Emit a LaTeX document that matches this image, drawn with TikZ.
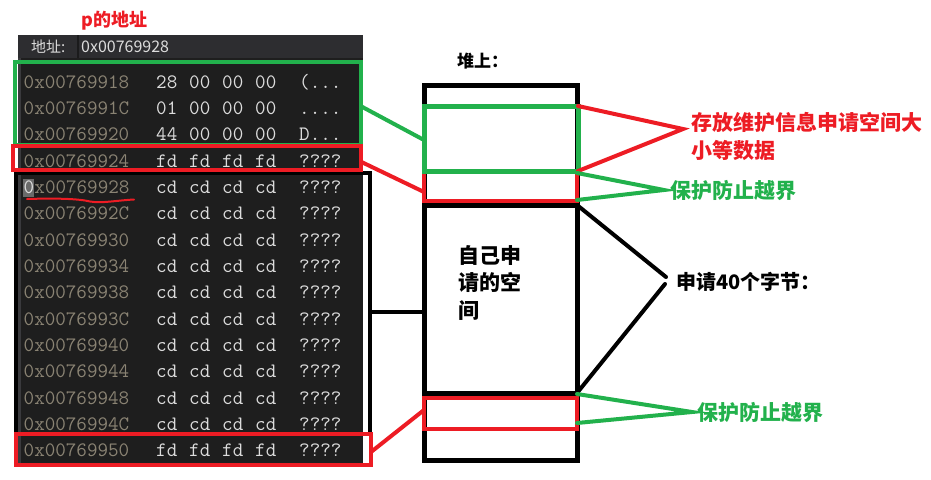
\documentclass[tikz,border=0pt]{standalone}
\usepackage{fontspec}
\newfontfamily\cjk{Noto Sans CJK SC}
\definecolor{paintred}{RGB}{237,28,36}
\definecolor{paintgreen}{RGB}{34,177,76}
\definecolor{panelbg}{HTML}{1E1E1E}
\definecolor{headbg}{HTML}{2D2D30}
\definecolor{sepc}{HTML}{1B1B1C}
\definecolor{stripc}{HTML}{3A3A3D}
\definecolor{addrgray}{HTML}{8A8373}
\definecolor{bytewhite}{HTML}{DCDCDC}
\definecolor{cursorgray}{HTML}{6A6A6A}
\begin{document}
\begin{tikzpicture}[x=1pt,y=-1pt,
  memfont/.style={font=\ttfamily\fontsize{20.5}{20.5}\selectfont},
  addr/.style={memfont, anchor=base west, inner sep=0, text=addrgray},
  byte/.style={memfont, anchor=base west, inner sep=0, text=bytewhite},
  lbl/.style={anchor=west, inner sep=0, align=left},
  box/.style={draw, inner sep=0, outer sep=0, fill=none},
  conn/.style={line width=4pt, line cap=round},
]
\useasboundingbox (0,0) rectangle (931,479);

% ---------- memory panel ----------
\fill[panelbg] (18,58) rectangle (363,465);
\fill[headbg] (18,35) rectangle (363,58);
\fill[stripc] (18,58) rectangle (21,465);
\draw[sepc, line width=1.5pt] (78,35) -- (78,58);
\node[lbl, text=bytewhite, font=\cjk\fontsize{15}{15}\selectfont] (hlabel) at (31,47) {地址:};
\node[lbl, text=bytewhite, font=\cjk\fontsize{16}{16}\selectfont] (haddr) at (81,47) {0x00769928};
\node[lbl, text=paintred, font=\cjk\bfseries\fontsize{18}{18}\selectfont] (ptitle) at (81,21) {p的地址};

% cursor highlight
\fill[cursorgray] (23,179) rectangle (34,197);

\foreach \ax/\a/\b/\c/\d/\e/\s [count=\i from 0] in {
  23.5/0x00769918/28/00/00/00/{(...},
  23.5/0x0076991C/01/00/00/00/{....},
  23.5/0x00769920/44/00/00/00/{D...},
  23.5/0x00769924/fd/fd/fd/fd/{????},
  34.26/x00769928/cd/cd/cd/cd/{????},
  23.5/0x0076992C/cd/cd/cd/cd/{????},
  23.5/0x00769930/cd/cd/cd/cd/{????},
  23.5/0x00769934/cd/cd/cd/cd/{????},
  23.5/0x00769938/cd/cd/cd/cd/{????},
  23.5/0x0076993C/cd/cd/cd/cd/{????},
  23.5/0x00769940/cd/cd/cd/cd/{????},
  23.5/0x00769944/cd/cd/cd/cd/{????},
  23.5/0x00769948/cd/cd/cd/cd/{????},
  23.5/0x0076994C/cd/cd/cd/cd/{????},
  23.5/0x00769950/fd/fd/fd/fd/{????}}{
  \pgfmathsetmacro{\yb}{88.3+26.31*\i}
  \node[addr] (ad\i) at (\ax,\yb) {\a};
  \node[byte] (b1\i) at (156,\yb) {\b};
  \node[byte] (b2\i) at (189,\yb) {\c};
  \node[byte] (b3\i) at (222,\yb) {\d};
  \node[byte] (b4\i) at (255,\yb) {\e};
  \node[byte] (as\i) at (299,\yb) {\s};
}
\node[byte, text=bytewhite] (cur0) at (23.5,193.54) {0};

% red wavy underline
\draw[paintred, line width=2pt, line cap=round] (27,199) .. controls (60,198) and (80,199) .. (90,201.5) .. controls (102,203.5) and (116,200.5) .. (134,199.5);

% memory highlight boxes
\node[box, draw=paintgreen, line width=4pt, minimum width=346.5pt, minimum height=83.5pt] (memG) at (187.75,103.25) {};
\node[box, draw=black, line width=4pt, minimum width=354pt, minimum height=261pt] (memK) at (193,303.5) {};
\node[box, draw=paintred, line width=4pt, minimum width=348pt, minimum height=24.5pt] (memR1) at (187,157.75) {};
\node[box, draw=paintred, line width=4pt, minimum width=355pt, minimum height=31pt] (memR2) at (193.5,449.5) {};

% ---------- heap ----------
\node[lbl, font=\cjk\bfseries\fontsize{17}{17}\selectfont] (heaptitle) at (457,61) {堆上：};
\node[box, draw=black, line width=5pt, minimum width=153pt, minimum height=375pt] (heapO) at (500.5,272.5) {};
\node[box, draw=black, line width=5pt, minimum width=153pt, minimum height=188pt] (heapM) at (500.5,299) {};
\node[box, draw=paintred, line width=4pt, minimum width=153pt, minimum height=30pt] (heapR1) at (500.5,186) {};
\node[box, draw=paintgreen, line width=5pt, minimum width=154pt, minimum height=65pt] (heapG) at (501,138.5) {};
\node[box, draw=paintred, line width=4pt, minimum width=153pt, minimum height=31pt] (heapR2) at (500.5,413.5) {};
\node[lbl, font=\cjk\bfseries\fontsize{21}{27.5}\selectfont] (own) at (458,282.5) {自己申\\请的空\\间};

% ---------- connectors memory -> heap ----------
\draw[conn, paintgreen] ([yshift=-3pt]memG.east) -- ([yshift=-1.5pt]heapG.west);
\draw[conn, paintred] ([yshift=-4pt]memR1.east) -- ([yshift=-6pt]heapR1.west);
\coordinate (kL) at ([yshift=-8.5pt]memK.east);
\draw[conn, black] (kL) -- (kL -| heapM.west);
\draw[conn, paintred] ([yshift=-2.5pt]memR2.east) -- ([yshift=3.5pt]heapR2.west);

% ---------- right-hand labels ----------
\coordinate (apx1) at (683,129);
\coordinate (apx2) at (664,190);
\coordinate (apx3a) at (666,277);
\coordinate (apx3b) at (665,284);
\coordinate (apx4) at (692,412);

\draw[conn, paintred] (heapG.north east) -- (apx1) -- (heapG.south east);
\draw[conn, paintgreen] ([yshift=-2pt]heapR1.north east) -- (apx2) -- ([yshift=1pt]heapR1.south east);
\draw[conn, black] (heapM.north east) -- (apx3a);
\draw[conn, black] (heapM.south east) -- (apx3b);
\draw[conn, paintgreen] ([yshift=4pt]heapR2.north east) -- (apx4) -- ([yshift=6pt]heapR2.south east);

\node[lbl, text=paintred, font=\cjk\bfseries\fontsize{21}{28}\selectfont] (txtinfo) at (691,136) {存放维护信息申请空间大\\小等数据};
\node[lbl, text=paintgreen, font=\cjk\bfseries\fontsize{21}{21}\selectfont] (txtguard1) at (670,190) {保护防止越界};
\node[lbl, text=black, font=\cjk\bfseries\fontsize{20}{20}\selectfont] (txtsize) at (676,282) {申请40个字节：};
\node[lbl, text=paintgreen, font=\cjk\bfseries\fontsize{21}{21}\selectfont] (txtguard2) at (697,412) {保护防止越界};
\end{tikzpicture}
\end{document}
